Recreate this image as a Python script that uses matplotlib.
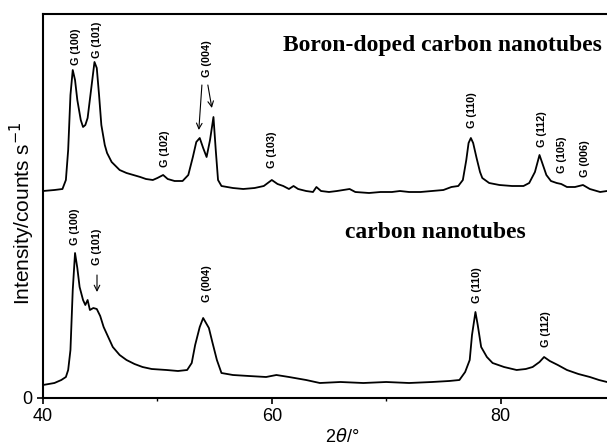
import matplotlib
matplotlib.use('Agg')
import matplotlib.pyplot as plt

# 2theta (deg) and intensity (arb. units)
boron_x = [40.0, 41.0, 41.7, 42.0, 42.2, 42.4, 42.6, 42.8, 43.0, 43.3, 43.5, 43.7, 43.9, 44.2,
           44.5, 44.7, 44.9, 45.1, 45.4, 45.6, 46.0, 46.7, 47.3, 47.9, 48.5, 49.0, 49.6, 50.0,
           50.5, 50.9, 51.5, 52.2, 52.7, 53.1, 53.4, 53.7, 54.0, 54.3, 54.6, 54.9, 55.1, 55.3,
           55.6, 56.6, 57.5, 58.5, 59.3, 60.0, 60.5, 61.0, 61.5, 61.9, 62.3, 63.0, 63.6, 63.9,
           64.3, 65.0, 65.7, 66.8, 67.3, 68.5, 69.5, 70.5, 71.2, 72.0, 73.0, 74.0, 75.0, 75.7,
           76.3, 76.7, 77.0, 77.2, 77.4, 77.6, 77.9, 78.2, 78.4, 79.0, 79.9, 81.0, 82.0, 82.5,
           83.0, 83.4, 83.7, 84.0, 84.4, 84.9, 85.3, 85.8, 86.5, 87.2, 87.8, 88.7, 89.3]
boron_y = [207, 208, 209, 218, 248, 303, 328, 318, 298, 278, 271, 273, 280, 308,
           336, 330, 303, 273, 253, 245, 236, 228, 225, 223, 221, 219, 218, 220,
           223, 219, 217, 217, 223, 241, 256, 260, 250, 241, 258, 281, 248, 218,
           212, 210, 209, 210, 212, 218, 214, 212, 209, 212, 209, 207, 206, 211,
           207, 206, 207, 209, 206, 205, 206, 206, 207, 206, 206, 207, 208, 211,
           212, 218, 238, 255, 260, 255, 240, 226, 220, 215, 213, 212, 212, 215,
           226, 243, 233, 223, 217, 215, 214, 211, 211, 213, 209, 206, 207]

cnt_x = [40.0, 40.5, 41.0, 41.6, 42.0, 42.2, 42.4, 42.6, 42.8, 43.0, 43.2, 43.5, 43.7, 43.9,
         44.1, 44.4, 44.7, 45.0, 45.3, 45.7, 46.1, 46.7, 47.3, 48.0, 48.7, 49.5, 50.8, 51.8,
         52.6, 53.0, 53.3, 53.7, 54.0, 54.2, 54.5, 54.8, 55.2, 55.6, 56.6, 58.0, 59.5, 60.4,
         61.5, 63.0, 64.2, 66.0, 68.0, 70.0, 72.0, 74.0, 75.5, 76.4, 76.9, 77.3, 77.5, 77.8,
         78.0, 78.3, 78.8, 79.3, 80.3, 81.4, 82.2, 82.8, 83.4, 83.8, 84.3, 85.0, 85.8, 86.8,
         87.8, 88.6, 89.3]
cnt_y = [13, 14, 15, 18, 21, 28, 48, 108, 145, 130, 111, 98, 93, 98,
         88, 90, 89, 82, 71, 61, 51, 43, 38, 34, 31, 29, 28, 27,
         28, 35, 53, 71, 80, 76, 70, 56, 38, 25, 23, 22, 21, 23,
         21, 18, 15, 16, 15, 16, 15, 16, 17, 18, 26, 38, 63, 86,
         73, 51, 41, 35, 31, 28, 29, 31, 36, 41, 37, 33, 28, 24,
         21, 18, 16]

# peak labels: (text, 2theta, y of text bottom)
boron_labels = [('G (100)', 42.88, 333), ('G (101)', 44.72, 340), ('G (102)', 50.65, 231),
                ('G (004)', 54.32, 321), ('G (103)', 60.0, 230), ('G (110)', 77.47, 270),
                ('G (112)', 83.58, 251), ('G (105)', 85.33, 225), ('G (006)', 87.34, 221)]
cnt_labels = [('G (100)', 42.79, 153), ('G (101)', 44.72, 133), ('G (004)', 54.32, 96),
              ('G (110)', 77.9, 95), ('G (112)', 84.0, 51)]

fig = plt.figure(figsize=(6.07, 4.45), dpi=100)
ax = fig.add_axes([43 / 607, 47 / 445, 564 / 607, 384 / 445])

ax.plot(boron_x, boron_y, color='black', lw=1.3)
ax.plot(cnt_x, cnt_y, color='black', lw=1.3)

for txt, x, y in boron_labels + cnt_labels:
    ax.text(x, y, txt, rotation=90, ha='center', va='bottom', fontsize=7.8,
            fontweight='bold', family='Liberation Sans')

# arrows
arr = dict(arrowstyle='->', lw=0.8, color='black', shrinkA=0, shrinkB=0)
ax.annotate('', xy=(53.62, 268), xytext=(53.89, 313), arrowprops=arr)
ax.annotate('', xy=(54.76, 290), xytext=(54.41, 313), arrowprops=arr)
ax.annotate('', xy=(44.72, 106), xytext=(44.72, 123), arrowprops=arr)

ax.text(60.96, 353, 'Boron-doped carbon nanotubes', ha='left', va='center',
        fontsize=17, fontweight='bold', family='Liberation Serif')
ax.text(66.38, 166, 'carbon nanotubes', ha='left', va='center',
        fontsize=17, fontweight='bold', family='Liberation Serif')

ax.set_xlim(40, 89.3)
ax.set_ylim(0, 384)
ax.set_xticks([40, 60, 80])
ax.set_xticks([50, 70], minor=True)
ax.set_yticks([0])
ax.tick_params(direction='out', length=4, width=1.2, labelsize=13)
ax.tick_params(which='minor', direction='out', length=2, width=1)
for lab in ax.get_xticklabels() + ax.get_yticklabels():
    lab.set_family('Liberation Sans')
ax.spines['right'].set_visible(False)
for s in ['left', 'bottom', 'top']:
    ax.spines[s].set_linewidth(1.5)

fig.text(22 / 607, 1 - 213 / 445, 'Intensity/counts s$^{-1}$', rotation=90,
         ha='center', va='center', fontsize=15, family='Liberation Sans')
fig.text(342 / 607, 1 - 437 / 445, '2$\\theta$/°', ha='center', va='center',
         fontsize=13, family='Liberation Sans')

fig.savefig('out.png', dpi=100)
